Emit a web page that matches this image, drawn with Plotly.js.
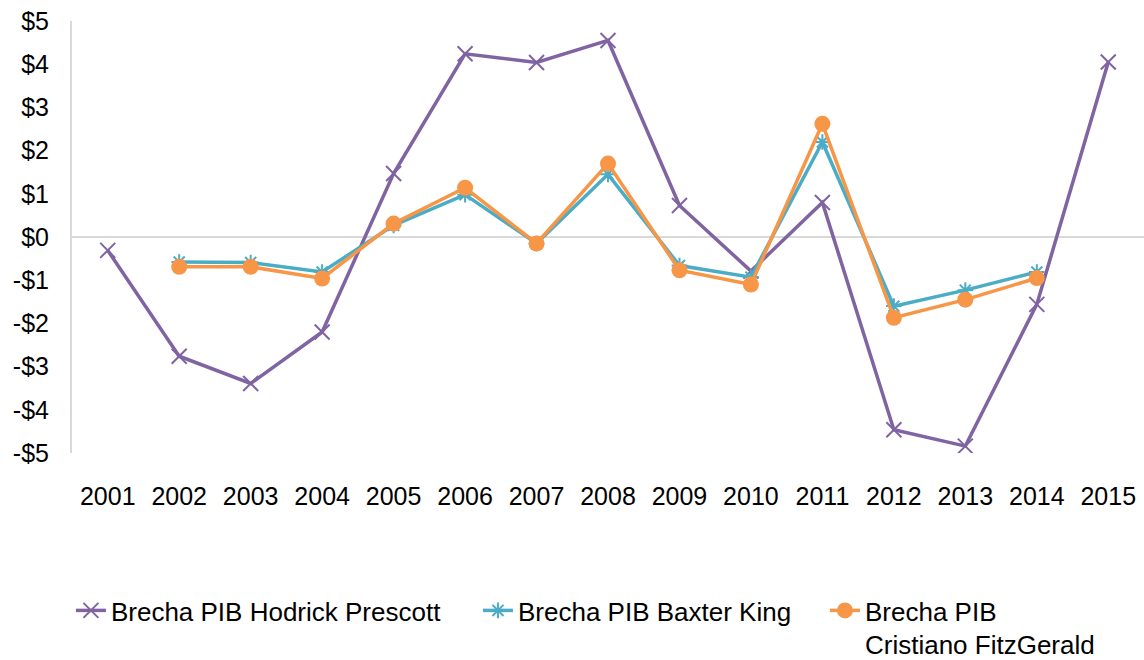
<!DOCTYPE html>
<html>
<head>
<meta charset="utf-8">
<script src="https://cdn.plot.ly/plotly-3.0.1.min.js"></script>
<style>html,body{margin:0;padding:0;background:#fff;}#chart{width:1144px;height:660px;}</style>
</head>
<body>
<div id="chart"></div>
<script>
const years = ["2001","2002","2003","2004","2005","2006","2007","2008","2009","2010","2011","2012","2013","2014","2015"];
const hodrickPrescott = [-0.31, -2.76, -3.39, -2.20, 1.47, 4.24, 4.04, 4.55, 0.73, -0.79, 0.80, -4.46, -4.84, -1.56, 4.05];
const baxterKing = [null, -0.58, -0.59, -0.81, 0.27, 0.98, -0.15, 1.45, -0.66, -0.93, 2.20, -1.60, -1.23, -0.81, null];
const christianoFitzgerald = [null, -0.69, -0.69, -0.96, 0.31, 1.14, -0.15, 1.70, -0.77, -1.10, 2.62, -1.87, -1.45, -0.95, null];
const yTickVals = [5,4,3,2,1,0,-1,-2,-3,-4,-5];
const yTickText = ["$5","$4","$3","$2","$1","$0","-$1","-$2","-$3","-$4","-$5"];
const seriesNames = ["Brecha PIB Hodrick Prescott","Brecha PIB Baxter King","Brecha PIB<br>Cristiano FitzGerald"];

const tickFont = {family: "Liberation Sans, Arial, sans-serif", size: 25, color: "#000"};
const legendFont = {family: "Liberation Sans, Arial, sans-serif", size: 26, color: "#000"};

const traces = [
  {x: years, y: hodrickPrescott, name: seriesNames[0], type: "scatter", mode: "lines+markers", legend: "legend",
   line: {color: "#8064A2", width: 3.5},
   marker: {symbol: "x-thin-open", size: 15, color: "#8064A2", line: {color: "#8064A2", width: 2}}},
  {x: years, y: baxterKing, name: seriesNames[1], type: "scatter", mode: "lines+markers", legend: "legend2",
   line: {color: "#4BACC6", width: 3.5},
   marker: {symbol: "asterisk-open", size: 13, color: "#4BACC6", line: {color: "#4BACC6", width: 2}}},
  {x: years, y: christianoFitzgerald, name: seriesNames[2], type: "scatter", mode: "lines+markers", legend: "legend3",
   line: {color: "#F79646", width: 3.5},
   marker: {symbol: "circle", size: 16, color: "#F79646"}}
];

function legendAt(x) {
  return {orientation: "h", x: x, xanchor: "left", xref: "paper", y: 0.1106, yanchor: "top", yref: "container",
          valign: "top", font: legendFont, bgcolor: "rgba(0,0,0,0)", borderwidth: 0};
}

const layout = {
  width: 1144, height: 660,
  margin: {l: 72, r: 0, t: 21, b: 207, autoexpand: false},
  paper_bgcolor: "#fff", plot_bgcolor: "#fff",
  font: tickFont,
  showlegend: true,
  legend: legendAt(-0.001),
  legend2: legendAt(0.3787),
  legend3: legendAt(0.7024),
  xaxis: {type: "category", range: [-0.5, 14.5], showgrid: false, zeroline: false,
          showline: false, ticks: "", tickfont: tickFont, ticklabelstandoff: 26, fixedrange: true},
  yaxis: {range: [-5, 5], tickvals: yTickVals, ticktext: yTickText, showgrid: false,
          zeroline: true, zerolinecolor: "#D9D9D9", zerolinewidth: 2,
          showline: true, linecolor: "#D9D9D9", linewidth: 2,
          ticks: "", tickfont: tickFont, ticklabelstandoff: 16, fixedrange: true}
};

Plotly.newPlot("chart", traces, layout, {displayModeBar: false, staticPlot: true});
</script>
</body>
</html>
